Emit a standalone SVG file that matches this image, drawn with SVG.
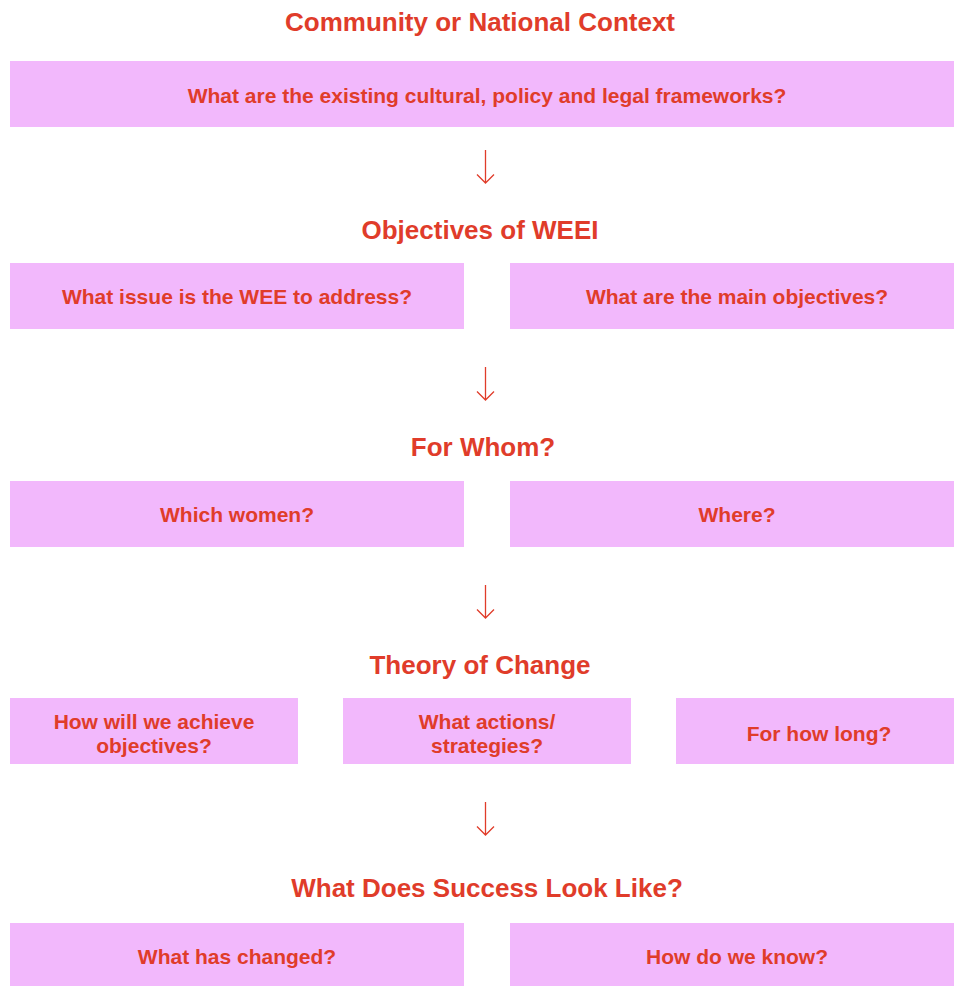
<svg xmlns="http://www.w3.org/2000/svg" width="954" height="986" viewBox="0 0 954 986">
<style>
.t{font-family:"Liberation Sans",Arial,sans-serif;font-weight:bold;font-size:26px;fill:#E03C2A;text-anchor:middle}
.l{font-family:"Liberation Sans",Arial,sans-serif;font-weight:bold;font-size:21px;fill:#E03C2A;text-anchor:middle}
.b{fill:#F2B8FC}
.a{stroke:#E03C2A;stroke-width:1.3;fill:none}
</style>
<rect width="954" height="986" fill="#fff"/>
<g id="title1"><text class="t" x="480" y="31">Community or National Context</text></g>
<g id="n1"><rect class="b" x="10" y="61" width="944" height="66"/><text class="l" x="487" y="103">What are the existing cultural, policy and legal frameworks?</text></g>
<g id="title2"><text class="t" x="480" y="239">Objectives of WEEI</text></g>
<g id="n2"><rect class="b" x="10" y="263" width="454" height="66"/><text class="l" x="237" y="304">What issue is the WEE to address?</text></g>
<g id="n3"><rect class="b" x="510" y="263" width="444" height="66"/><text class="l" x="737" y="304">What are the main objectives?</text></g>
<g id="title3"><text class="t" x="483" y="456">For Whom?</text></g>
<g id="n4"><rect class="b" x="10" y="481" width="454" height="66"/><text class="l" x="237" y="522">Which women?</text></g>
<g id="n5"><rect class="b" x="510" y="481" width="444" height="66"/><text class="l" x="737" y="522">Where?</text></g>
<g id="title4"><text class="t" x="480" y="674">Theory of Change</text></g>
<g id="n6"><rect class="b" x="10" y="698" width="288" height="66"/><text class="l" x="154" y="729">How will we achieve</text><text class="l" x="154" y="753">objectives?</text></g>
<g id="n7"><rect class="b" x="343" y="698" width="288" height="66"/><text class="l" x="487" y="729">What actions/</text><text class="l" x="487" y="753">strategies?</text></g>
<g id="n8"><rect class="b" x="676" y="698" width="278" height="66"/><text class="l" x="819" y="741">For how long?</text></g>
<g id="title5"><text class="t" x="487" y="897">What Does Success Look Like?</text></g>
<g id="n9"><rect class="b" x="10" y="923" width="454" height="63"/><text class="l" x="237" y="964">What has changed?</text></g>
<g id="n10"><rect class="b" x="510" y="923" width="444" height="63"/><text class="l" x="737" y="964">How do we know?</text></g>
<g id="connectors">
<path class="a" d="M485.5 150V183M477 174.5L485.5 183L494 174.5"/>
<path class="a" d="M485.5 367V400M477 391.5L485.5 400L494 391.5"/>
<path class="a" d="M485.5 585V618M477 609.5L485.5 618L494 609.5"/>
<path class="a" d="M485.5 802V835M477 826.5L485.5 835L494 826.5"/>
</g>
</svg>
